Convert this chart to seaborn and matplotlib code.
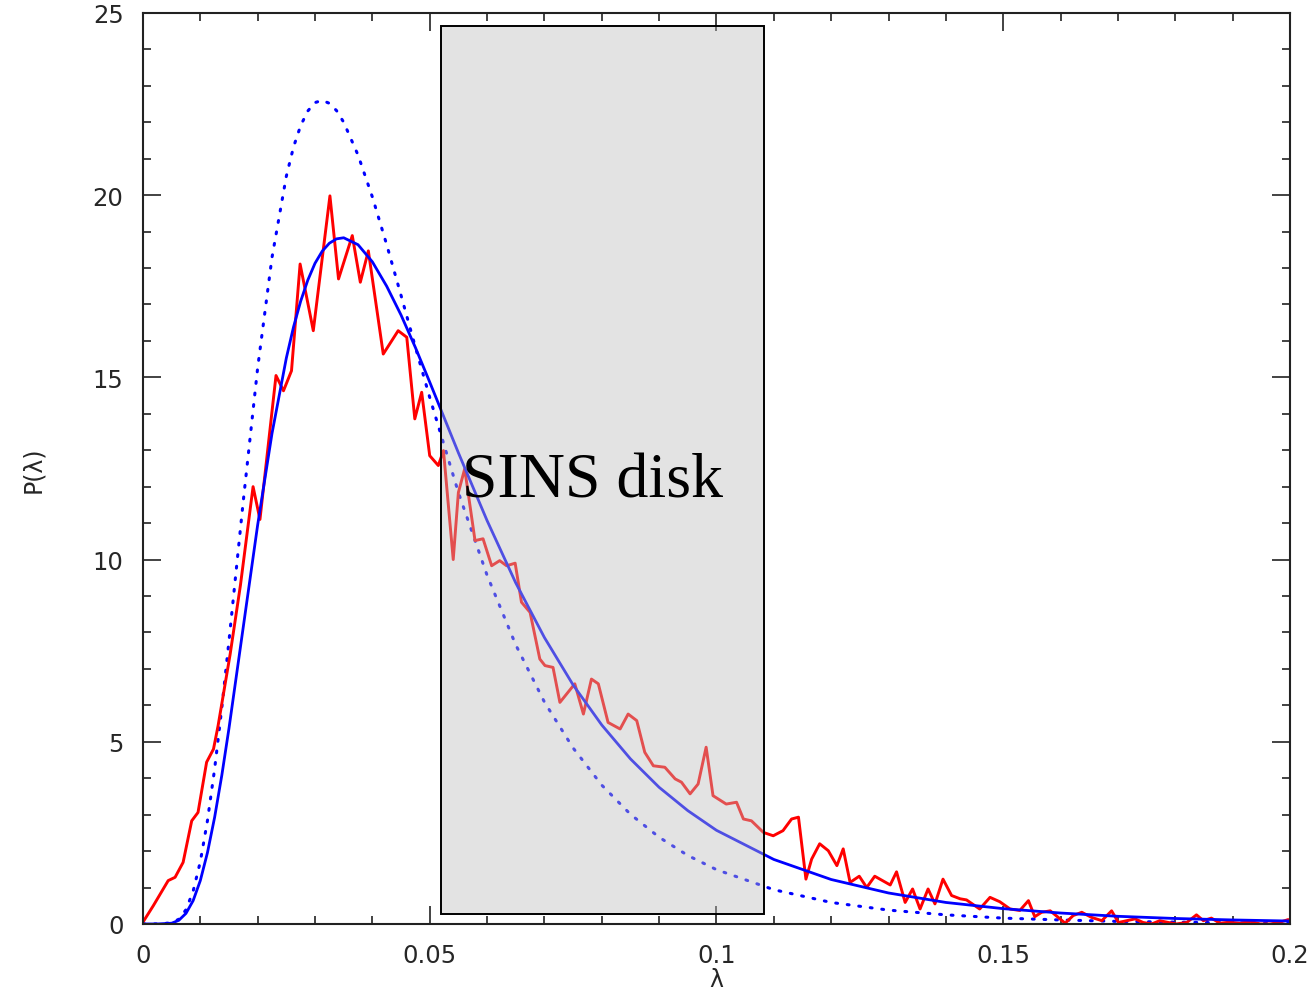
import numpy as np
import pandas as pd
import matplotlib
matplotlib.use("Agg")
import matplotlib.pyplot as plt
import seaborn as sns
from matplotlib.ticker import MultipleLocator, FuncFormatter
from matplotlib.patches import Rectangle

# simulated spin distribution (noisy red curve)
red_x = [0.0, 0.0018, 0.0044, 0.0056, 0.0070, 0.0085, 0.0096, 0.0111, 0.0123, 0.0131,
         0.0152, 0.0170, 0.0192, 0.0204, 0.0232, 0.0245, 0.0259, 0.0274, 0.0297, 0.0326,
         0.0341, 0.0365, 0.0379, 0.0393, 0.0419, 0.0445, 0.0460, 0.0474, 0.0486, 0.0500,
         0.0515, 0.0524, 0.0541, 0.0550, 0.0561, 0.0579, 0.0593, 0.0608, 0.0622, 0.0634,
         0.0649, 0.0660, 0.0675, 0.0692, 0.0701, 0.0715, 0.0727, 0.0753, 0.0768, 0.0782,
         0.0794, 0.0811, 0.0832, 0.0846, 0.0861, 0.0875, 0.0890, 0.0910, 0.0928, 0.0939,
         0.0954, 0.0968, 0.0982, 0.0994, 0.1017, 0.1035, 0.1047, 0.1061, 0.1082, 0.1099,
         0.1116, 0.1131, 0.1143, 0.1156, 0.1166, 0.1180, 0.1195, 0.1210, 0.1221, 0.1233,
         0.1249, 0.1262, 0.1276, 0.1303, 0.1314, 0.1329, 0.1342, 0.1355, 0.1369, 0.1381,
         0.1395, 0.1410, 0.1425, 0.1436, 0.1459, 0.1477, 0.1494, 0.1512, 0.1529, 0.1544,
         0.1555, 0.1567, 0.1582, 0.1596, 0.1608, 0.1622, 0.1637, 0.1654, 0.1672, 0.1689,
         0.1701, 0.1730, 0.1744, 0.1759, 0.1773, 0.1788, 0.1802, 0.1820, 0.1837, 0.1849,
         0.1863, 0.1878, 0.1895, 0.1913, 0.1931, 0.1948, 0.1966, 0.1983, 0.1997]
red_y = [0.05, 0.50, 1.19, 1.28, 1.69, 2.83, 3.06, 4.44, 4.80, 5.44,
         7.40, 9.30, 12.00, 11.10, 15.05, 14.63, 15.18, 18.11, 16.28, 19.98,
         17.70, 18.89, 17.61, 18.47, 15.64, 16.28, 16.10, 13.86, 14.59, 12.85,
         12.58, 12.99, 10.00, 11.84, 12.49, 10.52, 10.57, 9.83, 9.97, 9.83,
         9.90, 8.83, 8.55, 7.27, 7.09, 7.04, 6.08, 6.59, 5.76, 6.72,
         6.59, 5.53, 5.35, 5.76, 5.58, 4.71, 4.34, 4.30, 3.98, 3.89,
         3.57, 3.84, 4.85, 3.52, 3.29, 3.34, 2.88, 2.83, 2.51, 2.42,
         2.56, 2.88, 2.93, 1.23, 1.78, 2.20, 2.01, 1.60, 2.06, 1.14,
         1.31, 1.00, 1.31, 1.07, 1.43, 0.59, 0.96, 0.41, 0.96, 0.55,
         1.23, 0.78, 0.69, 0.66, 0.41, 0.73, 0.61, 0.41, 0.37, 0.64,
         0.20, 0.32, 0.36, 0.18, 0.02, 0.23, 0.32, 0.18, 0.09, 0.36,
         0.04, 0.14, 0.04, 0.00, 0.09, 0.04, 0.00, 0.04, 0.25, 0.09,
         0.16, 0.02, 0.05, 0.02, 0.07, 0.00, 0.00, 0.05, 0.12]

# fitted curves (solid and dotted blue)
fit_x = [0.0, 0.0025, 0.005, 0.00625, 0.0075, 0.00875, 0.01, 0.01125, 0.0125, 0.01375,
         0.015, 0.0175, 0.02, 0.0225, 0.025, 0.02625, 0.0275, 0.02875, 0.03, 0.03125,
         0.0325, 0.03375, 0.035, 0.0375, 0.04, 0.0425, 0.045, 0.0475, 0.05, 0.055,
         0.06, 0.065, 0.07, 0.075, 0.08, 0.085, 0.09, 0.095, 0.1, 0.11,
         0.12, 0.13, 0.14, 0.15, 0.16, 0.17, 0.18, 0.19, 0.2]
solid_y = [0.0, 0.0, 0.02, 0.10, 0.29, 0.64, 1.19, 1.96, 2.93, 4.08,
           5.37, 8.16, 10.95, 13.46, 15.53, 16.38, 17.09, 17.67, 18.13, 18.46,
           18.68, 18.80, 18.83, 18.64, 18.17, 17.50, 16.71, 15.82, 14.87, 12.93,
           11.07, 9.36, 7.86, 6.56, 5.46, 4.53, 3.75, 3.11, 2.57, 1.77,
           1.22, 0.85, 0.59, 0.42, 0.30, 0.21, 0.15, 0.11, 0.08]
dotted_y = [0.0, 0.0, 0.03, 0.13, 0.39, 0.90, 1.71, 2.84, 4.26, 5.93,
            7.77, 11.62, 15.26, 18.29, 20.52, 21.32, 21.91, 22.31, 22.54, 22.60,
            22.52, 22.32, 22.00, 21.10, 19.95, 18.64, 17.25, 15.83, 14.45, 11.84,
            9.57, 7.66, 6.09, 4.83, 3.81, 3.01, 2.38, 1.88, 1.49, 0.94,
            0.59, 0.38, 0.25, 0.16, 0.11, 0.07, 0.05, 0.03, 0.02]

# shaded SINS disk range
box_lo, box_hi = 0.0520, 0.1083
box_bottom, box_top = 0.27, 24.64

sns.set_style("ticks")
plt.rcParams['font.family'] = ['DejaVu Sans']

fig = plt.figure(figsize=(13.14, 9.95), dpi=100)
ax = fig.add_axes([0.1088, 0.0704, 0.8729, 0.9156])

sns.lineplot(x=fit_x, y=dotted_y, ax=ax, color='blue', linewidth=2.2,
             linestyle=(0, (0.6, 3.2)), dash_capstyle='round', zorder=2)
sns.lineplot(x=red_x, y=red_y, ax=ax, color='red', linewidth=2.1, zorder=3)
sns.lineplot(x=fit_x, y=solid_y, ax=ax, color='blue', linewidth=2.0, zorder=4)

# grey box overlays the curves, lightening them
ax.add_patch(Rectangle((box_lo, box_bottom), box_hi - box_lo, box_top - box_bottom,
                       facecolor=(0.74, 0.74, 0.74, 0.42), edgecolor='none', zorder=5))
ax.add_patch(Rectangle((box_lo, box_bottom), box_hi - box_lo, box_top - box_bottom,
                       facecolor='none', edgecolor='black', linewidth=1.4, zorder=6))
ax.text(0.0556, 11.72, 'SINS disk', family='Liberation Serif', fontsize=46,
        color='black', ha='left', va='baseline', zorder=7)

ax.set_xlim(0, 0.2)
ax.set_ylim(0, 25)
ax.xaxis.set_major_locator(MultipleLocator(0.05))
ax.xaxis.set_minor_locator(MultipleLocator(0.01))
ax.yaxis.set_major_locator(MultipleLocator(5))
ax.yaxis.set_minor_locator(MultipleLocator(1))
ax.xaxis.set_major_formatter(FuncFormatter(lambda v, p: f'{v:g}'))

ax.tick_params(which='both', direction='in', top=True, right=True,
               color='#222222', width=1.2, labelsize=17.5, pad=14)
ax.tick_params(which='major', length=13)
ax.tick_params(which='minor', length=6)
for sp in ax.spines.values():
    sp.set_linewidth(1.5)
    sp.set_color('#222222')
    sp.set_zorder(8)

ax.set_xlabel('λ', fontsize=17, labelpad=0)
ax.set_ylabel('P(λ)', fontsize=17, labelpad=34)

fig.savefig('out.png', dpi=100, facecolor='white')
